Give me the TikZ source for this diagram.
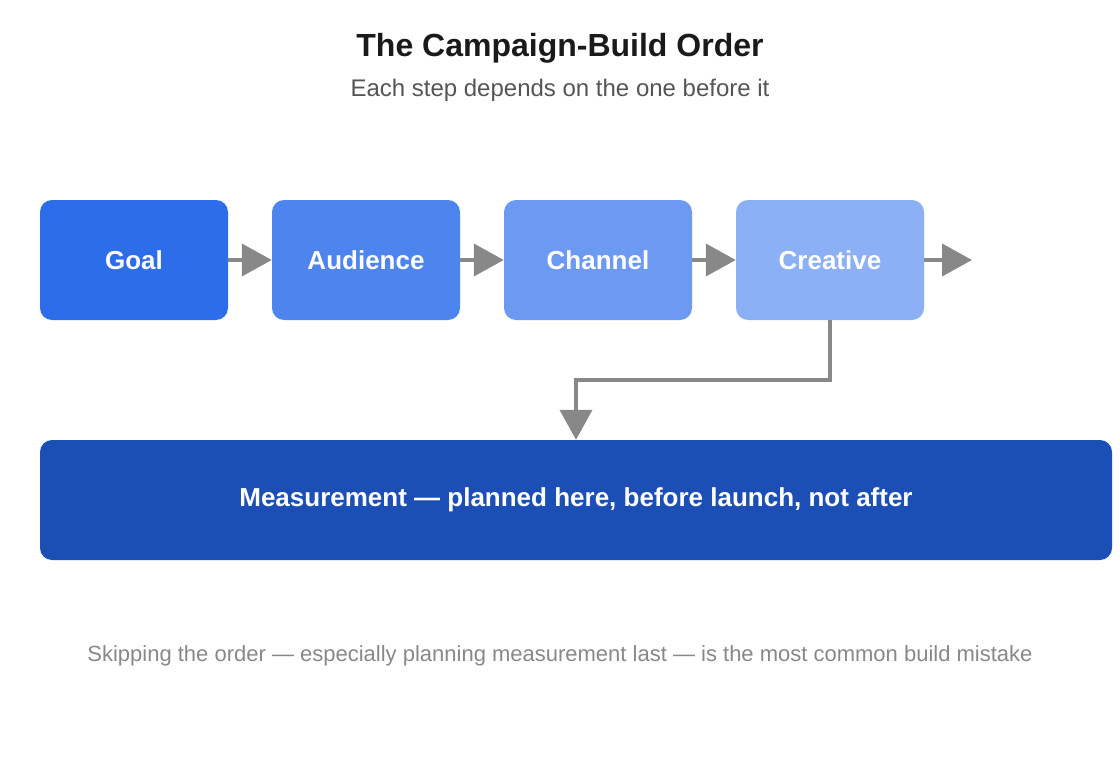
\documentclass[tikz,border=0pt]{standalone}
\usepackage{fontspec}
\setmainfont{Liberation Sans}
\usepackage{xcolor}
\usepackage{tikz}
\usetikzlibrary{arrows.meta,calc}
\definecolor{ink}{HTML}{1A1A1A}
\definecolor{muted}{HTML}{555555}
\definecolor{soft}{HTML}{888888}
\definecolor{line}{HTML}{888888}
\definecolor{goalc}{HTML}{2D6DEA}
\definecolor{audc}{HTML}{4D84EE}
\definecolor{chanc}{HTML}{6C9AF3}
\definecolor{creac}{HTML}{8CB0F6}
\definecolor{measc}{HTML}{1B4FB5}
\tikzset{
  stepbox/.style={rounded corners=12pt, inner sep=0pt, minimum width=188pt,
    minimum height=120pt, text=white, font=\fontsize{26}{30}\selectfont\bfseries},
  flow/.style={draw=line, line width=4pt, -{Triangle[length=30pt,width=32pt]}},
  titl/.style={text=ink, font=\fontsize{32}{38}\selectfont\bfseries},
  subt/.style={text=muted, font=\fontsize{24}{28}\selectfont},
  note/.style={text=soft, font=\fontsize{22}{26}\selectfont}
}

\begin{document}
\begin{tikzpicture}[x=1pt, y=-1pt]
  \useasboundingbox (0,0) rectangle (1120,760);

  \node[titl] (title) at (560,48) {The Campaign-Build Order};
  \node[subt] (sub) at (560,90) {Each step depends on the one before it};

  \node[stepbox, fill=goalc] (goal) at (134,260) {Goal};
  \node[stepbox, fill=audc] (aud) at (366,260) {Audience};
  \node[stepbox, fill=chanc] (chan) at (598,260) {Channel};
  \node[stepbox, fill=creac] (crea) at (830,260) {Creative};
  \node[stepbox, fill=measc, minimum width=1072pt] (meas) at (576,500)
    {Measurement — planned here, before launch, not after};

  \coordinate (next) at (972,260);
  \coordinate (bend) at (576,380);

  \draw[flow] (goal) -- (aud);
  \draw[flow] (aud) -- (chan);
  \draw[flow] (chan) -- (crea);
  \draw[flow] (crea) -- (next);
  \draw[flow] (crea.south) |- (bend) -- (bend |- meas.north);

  \node[note] (foot) at (560,656)
    {Skipping the order — especially planning measurement last — is the most common build mistake};
\end{tikzpicture}
\end{document}
